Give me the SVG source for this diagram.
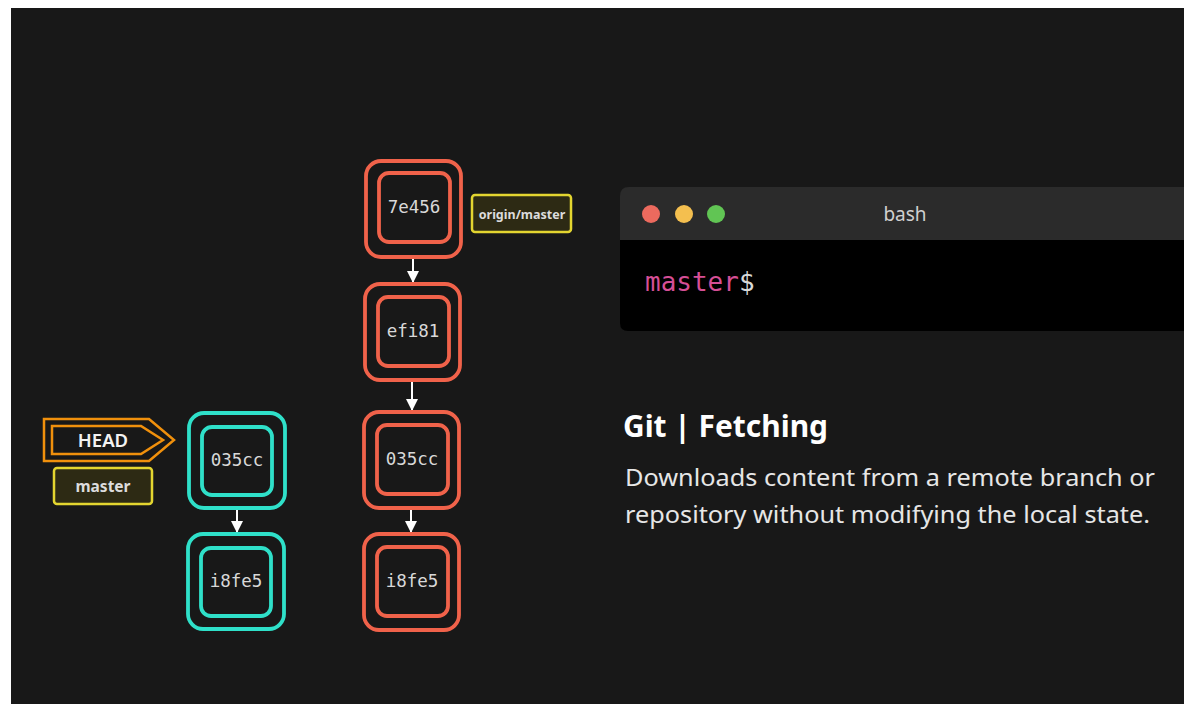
<svg xmlns="http://www.w3.org/2000/svg" width="1184" height="704" viewBox="0 0 1184 704">
  <defs>
    <style>
      .bg { fill: #181818; }
      .outer { fill: none; stroke-width: 3.8; }
      .inner { fill: #181818; stroke-width: 3.8; }
      .red { stroke: #f0624a; }
      .cyan { stroke: #2fe0c9; }
      .hash { font-family: "DejaVu Sans Mono", "Liberation Mono", monospace; font-size: 17.5px; fill: #d8d8d8; text-anchor: middle; }
      .conn { stroke: #ffffff; stroke-width: 2; fill: none; }
      .tag { fill: #2d2a14; stroke: #e3d530; stroke-width: 2.5; }
      .tagtext { font-family: "Noto Sans", "Lato", sans-serif; font-weight: bold; fill: #dcdcdc; text-anchor: middle; }
      .head { fill: none; stroke: #f0900c; stroke-width: 2.5; }
      .sans { font-family: "Noto Sans", "Lato", sans-serif; }
    </style>
    <marker id="arrow" viewBox="0 0 12 12" refX="12" refY="6" markerWidth="12" markerHeight="12" markerUnits="userSpaceOnUse" orient="auto">
      <path d="M0,0 L12,6 L0,12 z" fill="#ffffff"/>
    </marker>
  </defs>

  <rect x="0" y="0" width="1184" height="704" fill="#ffffff"/>
  <rect class="bg" x="11" y="8" width="1173" height="696"/>

  <g id="connectors">
    <line class="conn" x1="413" y1="258" x2="413" y2="283" marker-end="url(#arrow)"/>
    <line class="conn" x1="412" y1="381" x2="412" y2="411" marker-end="url(#arrow)"/>
    <line class="conn" x1="411" y1="509" x2="411" y2="533" marker-end="url(#arrow)"/>
    <line class="conn" x1="237" y1="509" x2="237" y2="533" marker-end="url(#arrow)"/>
  </g>

  <g id="node-red-7e456">
    <rect class="outer red" x="366" y="161" width="95" height="96" rx="15"/>
    <rect class="inner red" x="379" y="173" width="71" height="69" rx="10"/>
    <text class="hash" x="414" y="213">7e456</text>
  </g>
  <g id="node-red-efi81">
    <rect class="outer red" x="365" y="284" width="95" height="96" rx="15"/>
    <rect class="inner red" x="378" y="297" width="71" height="69" rx="10"/>
    <text class="hash" x="413" y="337">efi81</text>
  </g>
  <g id="node-red-035cc">
    <rect class="outer red" x="364" y="412" width="95" height="96" rx="15"/>
    <rect class="inner red" x="377" y="425" width="71" height="69" rx="10"/>
    <text class="hash" x="412" y="465">035cc</text>
  </g>
  <g id="node-red-i8fe5">
    <rect class="outer red" x="364" y="534" width="95" height="96" rx="15"/>
    <rect class="inner red" x="377" y="547" width="71" height="69" rx="10"/>
    <text class="hash" x="412" y="587">i8fe5</text>
  </g>

  <g id="node-cyan-035cc">
    <rect class="outer cyan" x="189" y="413" width="96" height="95" rx="15"/>
    <rect class="inner cyan" x="202" y="427" width="70" height="68" rx="10"/>
    <text class="hash" x="237" y="466">035cc</text>
  </g>
  <g id="node-cyan-i8fe5">
    <rect class="outer cyan" x="188" y="534" width="96" height="95" rx="15"/>
    <rect class="inner cyan" x="201" y="548" width="70" height="68" rx="10"/>
    <text class="hash" x="236" y="587">i8fe5</text>
  </g>

  <g id="label-origin-master">
    <rect class="tag" x="472" y="195" width="99" height="37" rx="3"/>
    <text class="tagtext" x="522" y="219" font-size="12.5">origin/master</text>
  </g>

  <g id="label-head">
    <path class="head" d="M44,419 L149,419 L174,440 L149,461 L44,461 Z"/>
    <path class="head" d="M52,426 L141,426 L163,440 L141,454 L52,454 Z"/>
    <text class="sans" x="103" y="447" font-size="18.5" font-weight="600" fill="#f2f2f2" text-anchor="middle">HEAD</text>
  </g>

  <g id="label-master">
    <rect class="tag" x="54" y="468" width="98" height="36" rx="3"/>
    <text class="tagtext" x="103" y="492" font-size="15.5" font-weight="600">master</text>
  </g>

  <g id="terminal">
    <path d="M620,196 Q620,187 629,187 L1184,187 L1184,240 L620,240 Z" fill="#2b2b2b"/>
    <path d="M620,240 L1184,240 L1184,331 L628,331 Q620,331 620,323 Z" fill="#000000"/>
    <circle cx="651" cy="214" r="9" fill="#ec6a5e"/>
    <circle cx="684" cy="214" r="9" fill="#f4bf4f"/>
    <circle cx="716" cy="214" r="9" fill="#61c554"/>
    <text class="sans" x="905" y="221" font-size="19" fill="#d0d0d0" text-anchor="middle">bash</text>
    <text x="645" y="291" font-family="DejaVu Sans Mono, Liberation Mono, monospace" font-size="26"><tspan fill="#d64f96">master</tspan><tspan fill="#d8d8d8">$</tspan></text>
  </g>

  <g id="caption">
    <text class="sans" x="623" y="437" font-size="30" font-weight="bold" fill="#ffffff" textLength="205" lengthAdjust="spacingAndGlyphs">Git | Fetching</text>
    <text class="sans" x="625" y="486" font-size="23" fill="#e6e6e6" textLength="530" lengthAdjust="spacingAndGlyphs">Downloads content from a remote branch or</text>
    <text class="sans" x="625" y="523" font-size="23" fill="#e6e6e6" textLength="525" lengthAdjust="spacingAndGlyphs">repository without modifying the local state.</text>
  </g>
</svg>
